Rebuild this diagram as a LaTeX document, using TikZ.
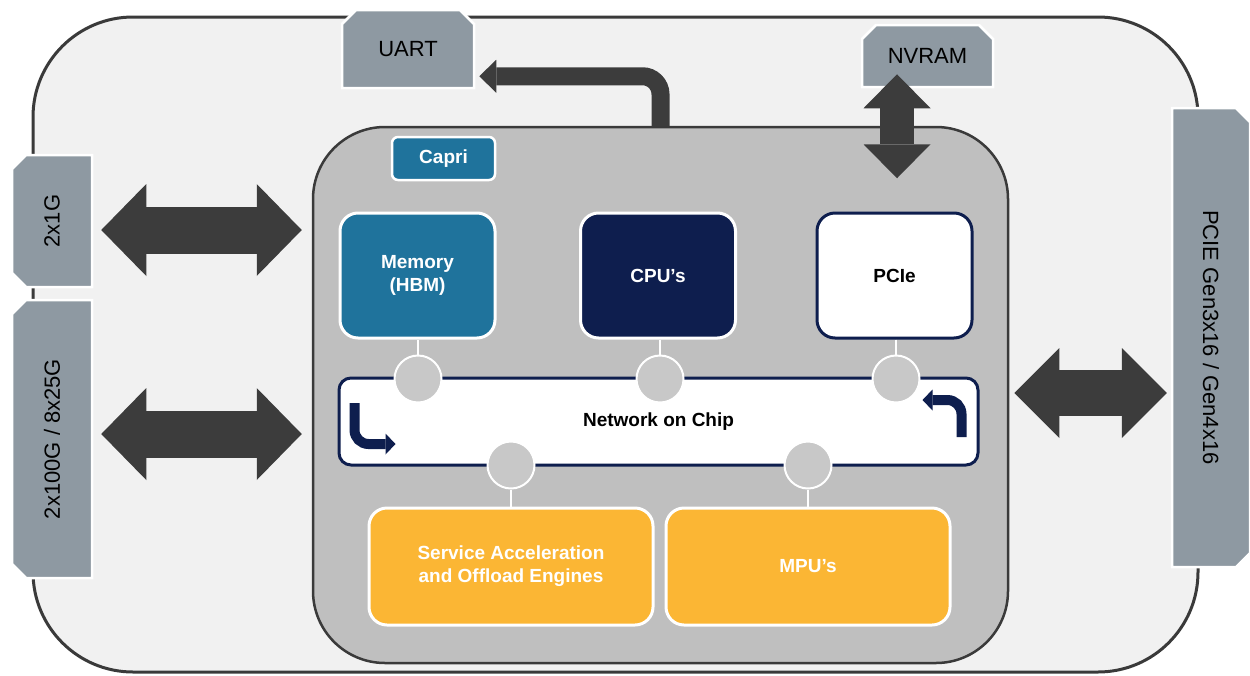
\documentclass[tikz,border=0pt]{standalone}
\usepackage{fontspec}
\setmainfont{Liberation Sans}
\usepackage{graphicx}
\usetikzlibrary{arrows.meta,shapes.misc,calc}
\definecolor{framebg}{HTML}{F1F1F1}
\definecolor{frameline}{HTML}{3A3A3A}
\definecolor{chipbg}{HTML}{BFBFBF}
\definecolor{extgray}{HTML}{8E99A2}
\definecolor{arrowgray}{HTML}{3C3C3C}
\definecolor{memblue}{HTML}{1F739C}
\definecolor{cpunavy}{HTML}{0E1E4E}
\definecolor{engorange}{HTML}{FBB634}
\definecolor{circgray}{HTML}{C8C8C8}
\tikzset{
  extbox/.style={chamfered rectangle, chamfered rectangle xsep=7pt, chamfered rectangle ysep=7pt,
    fill=extgray, draw=white, line width=2.5pt, inner sep=0pt,
    font=\fontsize{22}{26}\selectfont, text=black},
  blk/.style={rectangle, rounded corners=18pt, draw=white, line width=3pt, inner sep=0pt,
    minimum width=155pt, minimum height=125pt, align=center,
    font=\fontsize{19}{23}\selectfont\bfseries, text=white},
  engine/.style={blk, fill=engorange, minimum width=284pt, minimum height=117pt},
  circ/.style={circle, fill=circgray, draw=white, line width=2pt, minimum size=47pt, inner sep=0pt},
  wline/.style={draw=white, line width=2.5pt},
  darrow/.style n args={3}{draw=arrowgray, line width=#1,
    arrows={Triangle[length=#3,width=#2,line width=0pt,fill=arrowgray]-Triangle[length=#3,width=#2,line width=0pt,fill=arrowgray]}},
  sarrow/.style n args={3}{draw=arrowgray, line width=#1, rounded corners=18pt,
    arrows={-Triangle[length=#3,width=#2,line width=0pt,fill=arrowgray]}},
  navyarrow/.style={draw=cpunavy, line width=10pt, rounded corners=14pt,
    arrows={-Triangle[length=10pt,width=21pt,line width=0pt,fill=cpunavy]}},
}
\begin{document}
\begin{tikzpicture}[x=1pt,y=-1pt]
\useasboundingbox (0,0) rectangle (1250,675);
% outer board
\node[rectangle, rounded corners=100pt, fill=framebg, draw=frameline, line width=3pt,
  minimum width=1165pt, minimum height=655pt, inner sep=0pt] (board) at (615.5,344.5) {};
% external interface boxes
\node[extbox, chamfered rectangle corners={north west,north east}, minimum width=132pt, minimum height=78pt] (uart) at (408,49) {UART};
\node[extbox, chamfered rectangle corners={north west,north east}, minimum width=131pt, minimum height=62pt] (nvram) at (927.5,56) {NVRAM};
\node[extbox, chamfered rectangle corners={north west,south west}, minimum width=80pt, minimum height=132pt] (g1) at (52,221) {\rotatebox{90}{2x1G}};
\node[extbox, chamfered rectangle corners={north west,south west}, minimum width=80pt, minimum height=278pt] (g100) at (52,439) {\rotatebox{90}{2x100G / 8x25G}};
\node[extbox, chamfered rectangle corners={north east,south east}, minimum width=78pt, minimum height=459pt] (pcie16) at (1211,337.5) {\rotatebox{-90}{PCIE Gen3x16 / Gen4x16}};
% chip
\node[rectangle, rounded corners=72pt, fill=chipbg, draw=frameline, line width=2.5pt,
  minimum width=695pt, minimum height=536pt, inner sep=0pt] (chip) at (660.5,395) {};
% big arrows
\draw[sarrow={18pt}{33pt}{17pt}] (chip.north) -- ($(chip.north |- uart.south)+(0,-13)$) -- ($(uart.south east)+(4,-13)$);
\draw[darrow={34pt}{67pt}{34pt}] ($(nvram.south)+(-30.5,-14)$) -- ($(nvram.south)+(-30.5,90)$);
\draw[darrow={47pt}{92pt}{45pt}] ($(g1.east)+(8,9)$) -- ($(chip.west |- g1.east)+(-10,9)$);
\draw[darrow={47pt}{92pt}{45pt}] ($(g100.east)+(8,-5)$) -- ($(chip.west |- g100.east)+(-10,-5)$);
\draw[darrow={46pt}{90pt}{45pt}] ($(chip.east |- pcie16.west)+(5,55.5)$) -- ($(pcie16.west)+(-4,55.5)$);
% capri label
\node[rectangle, rounded corners=6pt, fill=memblue, draw=white, line width=2.5pt, inner sep=0pt,
  minimum width=103pt, minimum height=43pt, font=\fontsize{19}{23}\selectfont\bfseries, text=white] (capri) at (443.5,158.5) {Capri};
% top blocks
\node[blk, fill=memblue] (mem) at (417.5,275.5) {Memory\\(HBM)};
\node[blk, fill=cpunavy] (cpu) at (658,275.5) {CPU’s};
\node[blk, fill=white, draw=cpunavy, text=black] (pcie) at (894.5,275.5) {PCIe};
% network on chip
\node[rectangle, rounded corners=12pt, fill=white, draw=cpunavy, line width=3pt, inner sep=0pt,
  minimum width=639pt, minimum height=87pt, font=\fontsize{19}{23}\selectfont\bfseries, text=black] (noc) at (658.5,421.5) {Network on Chip};
\draw[navyarrow] ($(noc.west)+(17,-18.5)$) -- ($(noc.west)+(17,22.5)$) -- ($(noc.west)+(58,22.5)$);
\draw[navyarrow] ($(noc.east)+(-18,15.5)$) -- ($(noc.east)+(-18,-21.5)$) -- ($(noc.east)+(-57,-21.5)$);
% bottom engines
\node[engine] (sae) at (511,566.5) {Service Acceleration\\and Offload Engines};
\node[engine] (mpu) at (808,566.5) {MPU’s};
% router circles
\node[circ] (c1) at (418,379) {};
\node[circ] (c2) at (660,379) {};
\node[circ] (c3) at (896,379) {};
\node[circ] (c4) at (511,465) {};
\node[circ] (c5) at (808,465) {};
\draw[wline] (mem.south -| c1) -- (c1.north);
\draw[wline] (cpu.south -| c2) -- (c2.north);
\draw[wline] (pcie.south -| c3) -- (c3.north);
\draw[wline] (c4.south) -- (sae.north -| c4);
\draw[wline] (c5.south) -- (mpu.north -| c5);
\end{tikzpicture}
\end{document}
